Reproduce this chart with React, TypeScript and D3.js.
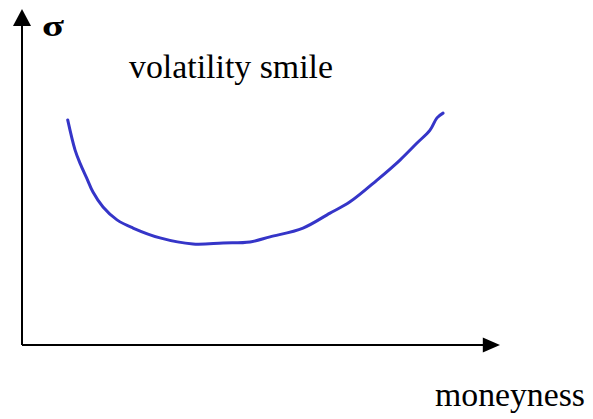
import React from "react";
import * as d3 from "d3";

const moneyness = [9.56, 11.09, 12.13, 13.54, 14.85, 16.95, 19.87, 23.22, 28.87, 35.77, 42.05, 47.7, 51.88, 58.79, 64.44, 68.62, 74.27, 79.08, 82.64, 85.36, 86.82, 88.08];
const sigma = [66.2, 57.4, 53.5, 49.1, 45.0, 40.6, 36.8, 34.4, 31.5, 29.7, 30.0, 30.3, 31.8, 34.4, 38.8, 42.1, 48.5, 54.4, 59.4, 63.2, 66.8, 68.2];
const yLabel = "σ";
const xLabel = "moneyness";
const title = "volatility smile";

export default function App() {
  const W = 593, H = 419;
  const x = d3.scaleLinear().domain([0, 100]).range([22, 500]);
  const y = d3.scaleLinear().domain([0, 100]).range([345, 5]);
  const pts: [number, number][] = moneyness.map((m, i) => [m, sigma[i]]);
  const line = d3.line<[number, number]>().x(d => x(d[0])).y(d => y(d[1])).curve(d3.curveCatmullRom);
  const x0 = x(0), y0 = y(0);
  const font = "'Liberation Serif', 'Times New Roman', serif";
  return (
    <svg width={W} height={H} style={{ position: "absolute", left: 0, top: 0, background: "#fff" }}>
      <line x1={x0} y1={y0} x2={x0} y2={y(95)} stroke="#000" strokeWidth={2} />
      <line x1={x0} y1={y0} x2={x(97)} y2={y0} stroke="#000" strokeWidth={2} />
      <polygon points={`${x0},${y(98.8)} ${x0 - 9},${y(93.8)} ${x0 + 9},${y(93.8)}`} fill="#000" />
      <polygon points={`${x(100)},${y0} ${x(96.4)},${y0 - 7.5} ${x(96.4)},${y0 + 7.5}`} fill="#000" />
      <path d={line(pts) || ""} fill="none" stroke="#3535c8" strokeWidth={3} strokeLinecap="round" strokeLinejoin="round" />
      <text x={42} y={36} fontFamily={font} fontSize={30} fontWeight="bold" textLength={22} lengthAdjust="spacingAndGlyphs">{yLabel}</text>
      <text x={129} y={78} fontFamily={font} fontSize={34} textLength={204} lengthAdjust="spacingAndGlyphs">{title}</text>
      <text x={435} y={406} fontFamily={font} fontSize={34} textLength={150} lengthAdjust="spacingAndGlyphs">{xLabel}</text>
    </svg>
  );
}
